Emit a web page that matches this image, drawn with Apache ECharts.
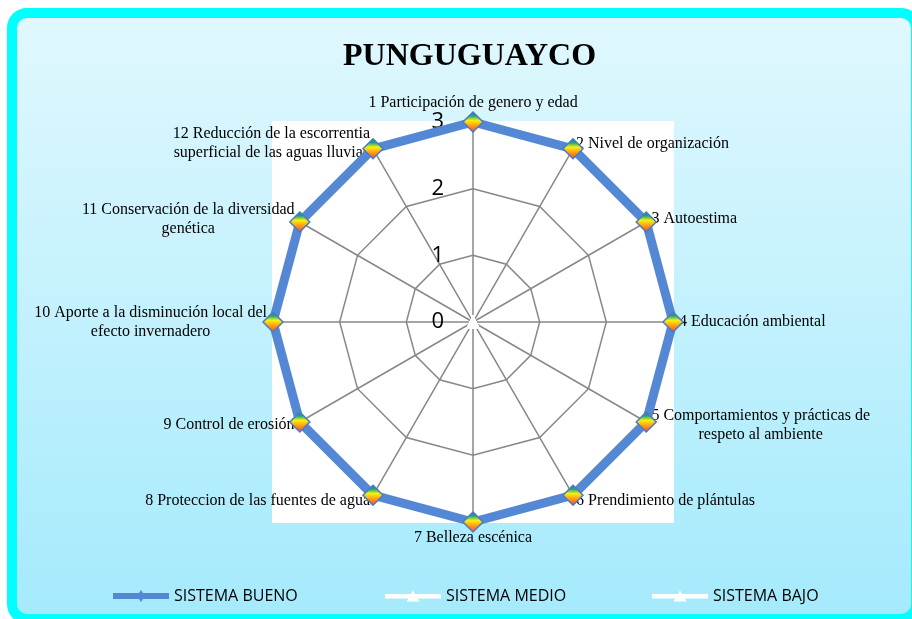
<!DOCTYPE html>
<html>
<head>
<meta charset="utf-8">
<title>PUNGUGUAYCO</title>
<script src="https://cdn.jsdelivr.net/npm/echarts@6.0.0/dist/echarts.min.js"></script>
<style>
  html, body { margin: 0; padding: 0; background: #fff; }
  #chart { width: 912px; height: 619px; }
</style>
</head>
<body>
<div id="chart"></div>
<script>
// indicadores en orden horario, empezando arriba
const indicatorNames = [
  '1 Participación de genero y edad',
  '2 Nivel de organización',
  '3 Autoestima',
  '4 Educación ambiental',
  '5 Comportamientos y prácticas de\nrespeto al ambiente',
  '6 Prendimiento de plántulas',
  '7 Belleza escénica',
  '8 Proteccion de las fuentes de agua',
  '9 Control de erosión',
  '10 Aporte a la disminución local del\nefecto invernadero',
  '11 Conservación de la diversidad\ngenética',
  '12 Reducción de la escorrentia\nsuperficial de las aguas lluvias'
]
const buenoValues = [3, 3, 3, 3, 3, 3, 3, 3, 3, 3, 3, 3]
const medioValues = [0, 0, 0, 0, 0, 0, 0, 0, 0, 0, 0, 0]
const bajoValues = [0, 0, 0, 0, 0, 0, 0, 0, 0, 0, 0, 0]
const axisMax = 3

// echarts dibuja el radar en sentido antihorario: se invierte el orden
const order = [0].concat(indicatorNames.map((_, i) => i).slice(1).reverse())
const pick = arr => order.map(i => arr[i])

const chart = echarts.init(document.getElementById('chart'))

const markerFill = {
  type: 'linear', x: 0, y: 0, x2: 0, y2: 1,
  colorStops: [
    { offset: 0, color: '#2F6FB8' },
    { offset: 0.22, color: '#1FA67A' },
    { offset: 0.42, color: '#F6F20A' },
    { offset: 0.68, color: '#FF9A1A' },
    { offset: 1, color: '#FF3A2A' }
  ]
}

const lineIcon = 'path://M0,3H56V9H0Z M28,0L32,6L28,12L24,6Z'
const triIcon = 'path://M0,3.5H56V8H0Z M28,0L34.5,11H21.5Z'

const legendText = { color: '#000', fontSize: 16, fontFamily: 'Open Sans' }
const makeLegend = (left, name, icon, color) => ({
  left: left,
  top: 588,
  padding: 0,
  itemWidth: 56,
  itemHeight: 12,
  selectedMode: false,
  textStyle: legendText,
  data: [{ name: name, icon: icon, itemStyle: { color: color, borderWidth: 0 } }]
})

const indicators = pick(indicatorNames).map((name, i) => {
  const item = { name: name, min: 0, max: axisMax }
  if (i === 0) {
    item.axisLabel = {
      show: true,
      color: '#000',
      fontSize: 22,
      fontFamily: 'Open Sans',
      margin: 29
    }
  }
  return item
})

const option = {
  animation: false,
  title: {
    text: 'PUNGUGUAYCO',
    left: 338,
    top: 36,
    textStyle: {
      fontFamily: 'Liberation Serif',
      fontWeight: 'bold',
      fontSize: 32,
      color: '#000'
    }
  },
  graphic: [
    {
      type: 'rect',
      z: -10,
      silent: true,
      shape: { x: 12, y: 13, width: 904, height: 606, r: 15 },
      style: {
        fill: {
          type: 'linear', x: 0, y: 0, x2: 0, y2: 1,
          colorStops: [
            { offset: 0, color: '#E1F8FE' },
            { offset: 1, color: '#A4EAFC' }
          ]
        },
        stroke: '#00FFFF',
        lineWidth: 10
      }
    },
    {
      type: 'rect',
      z: -9,
      silent: true,
      shape: { x: 272, y: 121, width: 402, height: 402 },
      style: { fill: '#fff' }
    }
  ],
  legend: [
    makeLegend(113, 'SISTEMA BUENO', lineIcon, '#5588D4'),
    makeLegend(385, 'SISTEMA MEDIO', triIcon, '#fff'),
    makeLegend(652, 'SISTEMA BAJO', triIcon, '#fff')
  ],
  radar: {
    center: [473, 322],
    radius: 200,
    startAngle: 90,
    shape: 'polygon',
    splitNumber: 3,
    nameGap: 6,
    indicator: indicators,
    axisName: {
      color: '#000',
      fontFamily: 'Liberation Serif',
      fontSize: 16,
      formatter: name => name.split('\n').map(s => '{c|' + s + '}').join('\n'),
      rich: {
        c: { align: 'center', fontFamily: 'Liberation Serif', fontSize: 16, color: '#000', lineHeight: 19 }
      }
    },
    axisLine: { lineStyle: { color: '#888', width: 1.5 } },
    axisTick: { show: false },
    axisLabel: { show: false },
    splitLine: { lineStyle: { color: '#888', width: 1.5 } },
    splitArea: { show: false }
  },
  series: [
    {
      type: 'radar',
      data: [
        {
          name: 'SISTEMA MEDIO',
          value: pick(medioValues),
          symbol: 'triangle',
          symbolSize: 14,
          lineStyle: { color: '#fff', width: 4 },
          itemStyle: { color: '#fff', borderWidth: 0 }
        },
        {
          name: 'SISTEMA BAJO',
          value: pick(bajoValues),
          symbol: 'triangle',
          symbolSize: 14,
          lineStyle: { color: '#fff', width: 4 },
          itemStyle: { color: '#fff', borderWidth: 0 }
        },
        {
          name: 'SISTEMA BUENO',
          value: pick(buenoValues),
          symbol: 'diamond',
          symbolSize: 20,
          lineStyle: { color: '#5588D4', width: 9 },
          itemStyle: { color: markerFill, borderColor: '#4A7CC4', borderWidth: 1.5 }
        }
      ]
    }
  ]
}

chart.setOption(option)
</script>
</body>
</html>
